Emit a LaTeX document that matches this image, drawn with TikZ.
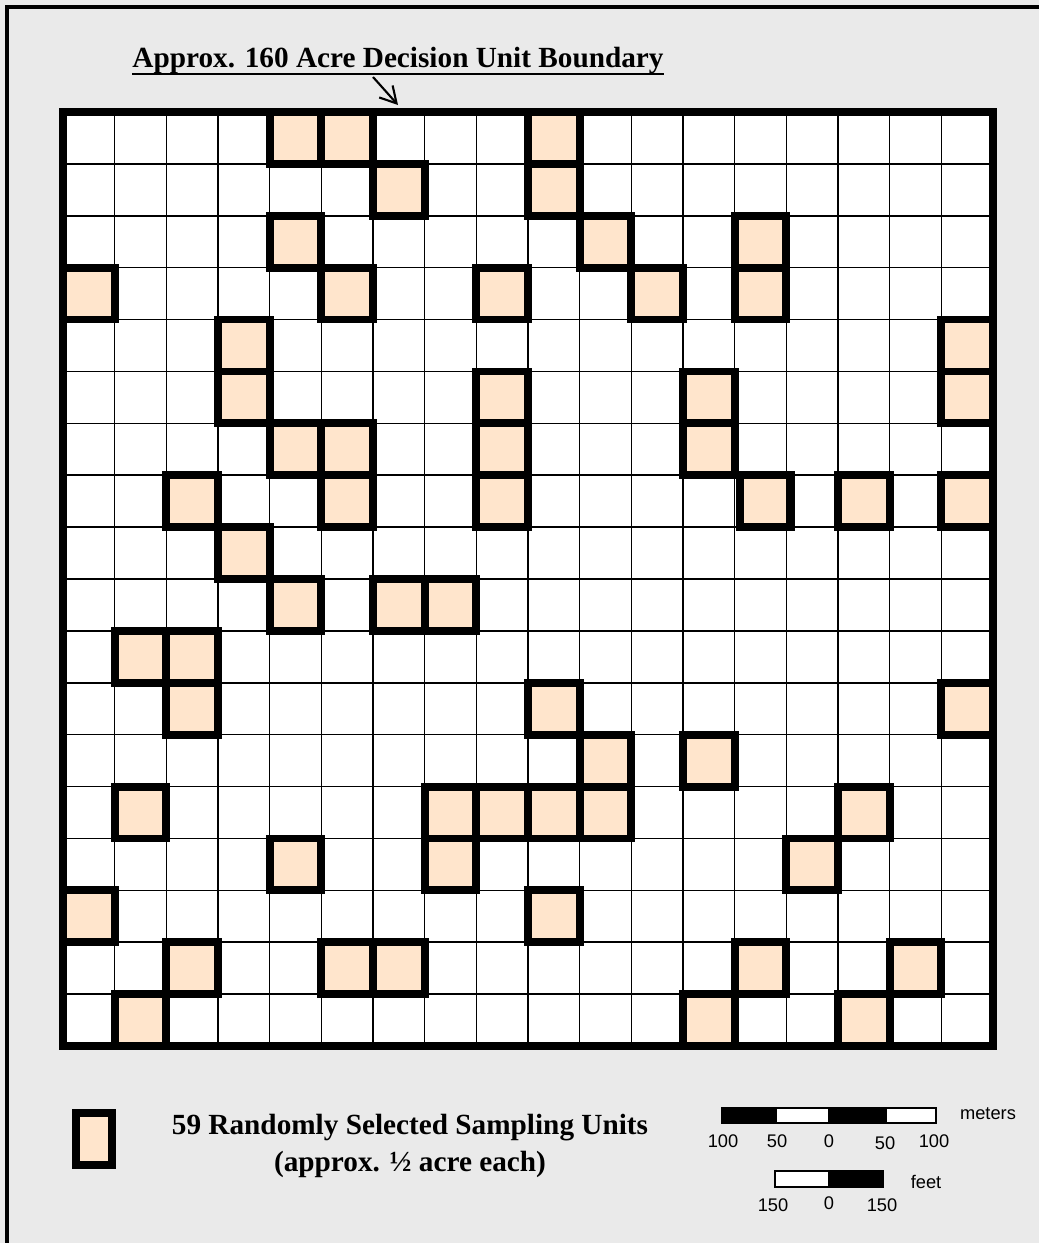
\documentclass[tikz,border=0pt]{standalone}
\usepackage{fontspec}
\setmainfont{Liberation Serif}
\setsansfont{Liberation Sans}
\usetikzlibrary{calc,arrows.meta}
\definecolor{peach}{RGB}{255,229,204}
\definecolor{paper}{RGB}{234,234,234}

\begin{document}
\begin{tikzpicture}[x=0.025cm,y=-0.025cm,line join=miter,
  gridline/.style={black,line width=1.1pt},
  unit/.style={draw=black,line width=5.6pt,fill=peach},
  barbox/.style={draw=black,line width=0.8pt},
  sclabel/.style={font=\sffamily\fontsize{13}{15}\selectfont,inner sep=0pt},
  headline/.style={font=\bfseries\fontsize{20.8}{24}\selectfont,inner sep=0pt}]
  \useasboundingbox (0,0) rectangle (1039,1243);
  % fondo y marco
  \fill[paper] (0,0) rectangle (1039,1243);
  \draw[line width=2.2pt] (7,1260) -- (7,7) -- (1060,7);
  % rejilla 18x18 de unidades de muestreo
  \def\dx{51.667}\def\dy{51.889}
  \fill[white] (63,112) rectangle (993,1046);
  \def\picked{4/0,5/0,9/0, 6/1,9/1, 4/2,10/2,13/2, 0/3,5/3,8/3,11/3,13/3,
    3/4,17/4, 3/5,8/5,12/5,17/5, 4/6,5/6,8/6,12/6, 2/7,5/7,8/7,15/7,17/7,
    3/8, 4/9,6/9,7/9, 1/10,2/10, 2/11,9/11,17/11, 10/12,12/12,
    1/13,7/13,8/13,9/13,10/13,15/13, 4/14,7/14,14/14, 0/15,9/15,
    2/16,5/16,6/16,13/16,16/16, 1/17,12/17,15/17}
  \foreach \c/\r in \picked \fill[peach] ({63+\c*\dx},{112+\r*\dy}) rectangle ++(\dx,\dy);
  \fill[peach] ({68+13*\dx},{112+7*\dy}) rectangle ++(\dx,\dy);
  \foreach \i in {1,...,17}{
    \draw[gridline] ({63+\i*\dx},112) -- ({63+\i*\dx},1046);
    \draw[gridline] (63,{112+\i*\dy}) -- (993,{112+\i*\dy});
  }
  \foreach \c/\r in \picked \draw[line width=5.6pt] ({63+\c*\dx},{112+\r*\dy}) rectangle ++(\dx,\dy);
  \draw[line width=5.6pt] ({68+13*\dx},{112+7*\dy}) rectangle ++(\dx,\dy);
  \draw[line width=5.6pt] (63,112) rectangle (993,1046);
  % titulo y flecha
  \node[headline] (title) at (398,61) {Approx. 160 Acre Decision Unit Boundary};
  \draw[line width=2pt] ($(title.base west)+(0,6)$) -- ($(title.base east)+(0,6)$);
  \coordinate (edge) at (398,105);
  \draw[line width=1.5pt,-{Straight Barb[length=4mm,width=4.5mm]}] ($(title.base)+(-25,9)$) -- (edge);
  % leyenda
  \node[unit,minimum width=0.9cm,minimum height=1.28cm,inner sep=0pt] (key) at (94,1139) {};
  \node[headline,align=center] (keytext) at (410,1146)
    {59 Randomly Selected Sampling Units\\[2pt](approx. \textonehalf\ acre each)};
  % escala en metros
  \foreach \a/\b/\f in {722/776/black,776/829/white,829/886/black,886/936/white}
    \draw[barbox,fill=\f] (\a,1108) rectangle (\b,1123);
  \foreach \x/\t/\y in {723/100/1141,777/50/1141,829/0/1141,885/50/1143,934/100/1141}
    \node[sclabel] (m\x) at (\x,\y) {\t};
  \node[sclabel] (meters) at (988,1114) {meters};
  % escala en pies
  \foreach \a/\b/\f in {775/829/white,829/883/black}
    \draw[barbox,fill=\f] (\a,1171) rectangle (\b,1187);
  \foreach \x/\t/\y in {773/150/1205,829/0/1203,882/150/1205}
    \node[sclabel] (f\x) at (\x,\y) {\t};
  \node[sclabel] (feet) at (926,1182) {feet};
\end{tikzpicture}
\end{document}
